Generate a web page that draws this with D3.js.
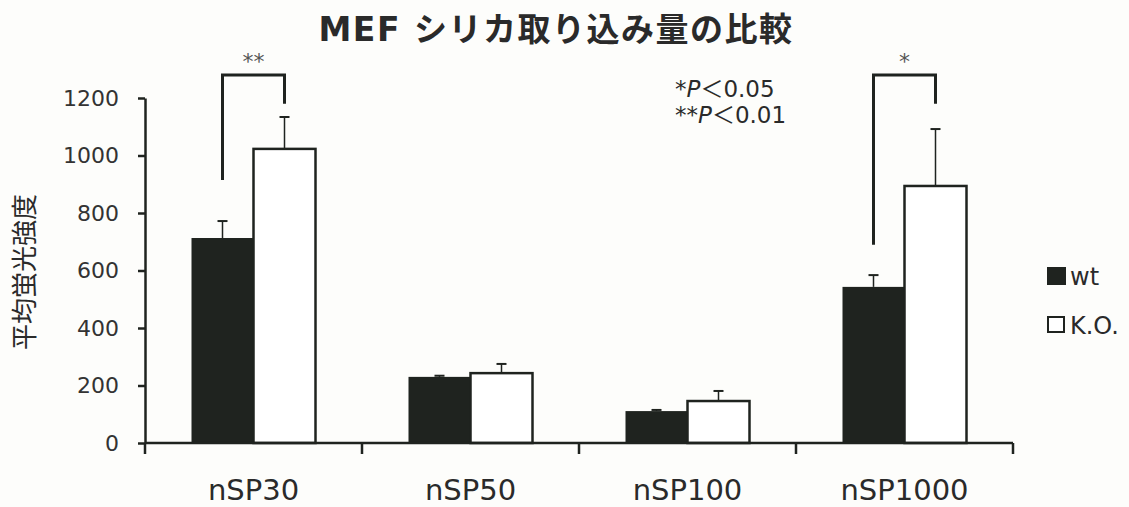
<!DOCTYPE html>
<html>
<head>
<meta charset="utf-8">
<script src="https://cdn.jsdelivr.net/npm/d3@7"></script>
<style>
  body { margin: 0; background: #fdfdfb; }
  svg { display: block; }
  text { fill: #2a2a2a; }
</style>
</head>
<body>
<svg width="1129" height="507"></svg>
<script>
// data
var categories = ["nSP30", "nSP50", "nSP100", "nSP1000"];
var series = ["wt", "K.O."];
var wtMean = [713, 230, 111, 543];
var wtErr = [59, 4, 4, 41];
var koMean = [1023, 243, 146, 894];
var koErr = [111, 32, 35, 198];
var yTicks = [0, 200, 400, 600, 800, 1000, 1200];
// significance brackets: category, left leg bottom, right leg bottom, top (data units), label
var brackets = [
  {cat: "nSP30", left: 915, right: 1180, top: 1280, label: "**"},
  {cat: "nSP1000", left: 690, right: 1180, top: 1280, label: "*"}
];

var svg = d3.select("svg"),
  width = +svg.attr("width"),
  height = +svg.attr("height");

var x0 = 145, x1 = 1013, yBase = 443, yTop = 98;

var x = d3.scaleBand()
    .domain(categories)
    .range([x0, x1])
    .paddingInner(0)
    .paddingOuter(0);

var xs = d3.scaleBand()
    .domain(series)
    .range([0, x.bandwidth()])
    .paddingOuter(0.75)
    .paddingInner(0);

var y = d3.scaleLinear()
    .domain([0, 1200])
    .range([yBase, yTop]);

var rows = [];
categories.forEach(function(c, i) {
  rows.push({cat: c, s: "wt", v: wtMean[i], e: wtErr[i]});
  rows.push({cat: c, s: "K.O.", v: koMean[i], e: koErr[i]});
});

var ink = "#1f231f";

// title
svg.append("text")
    .attr("x", 556)
    .attr("y", 41)
    .attr("text-anchor", "middle")
    .style("font-family", "'DejaVu Sans', 'Noto Sans CJK JP', sans-serif")
    .style("font-weight", "bold")
    .style("font-size", "33px")
    .style("letter-spacing", "1.5px")
    .text("MEF シリカ取り込み量の比較");

// error bars (drawn first so bar tops cover the base)
var eb = svg.append("g").selectAll("g")
    .data(rows)
    .enter().append("g");

function cx(d) { return x(d.cat) + xs(d.s) + xs.bandwidth() / 2; }

eb.append("line")
    .attr("x1", cx).attr("x2", cx)
    .attr("y1", function(d) { return y(d.v); })
    .attr("y2", function(d) { return y(d.v + d.e); })
    .attr("stroke", ink)
    .attr("stroke-width", 1.5);

eb.append("line")
    .attr("x1", function(d) { return cx(d) - 5; })
    .attr("x2", function(d) { return cx(d) + 5; })
    .attr("y1", function(d) { return y(d.v + d.e); })
    .attr("y2", function(d) { return y(d.v + d.e); })
    .attr("stroke", ink)
    .attr("stroke-width", 2);

// bars
svg.append("g").selectAll("rect")
    .data(rows)
    .enter().append("rect")
      .attr("x", function(d) { return x(d.cat) + xs(d.s); })
      .attr("y", function(d) { return y(d.v); })
      .attr("width", xs.bandwidth())
      .attr("height", function(d) { return yBase - y(d.v); })
      .attr("fill", function(d) { return d.s === "wt" ? ink : "#ffffff"; })
      .attr("stroke", ink)
      .attr("stroke-width", function(d) { return d.s === "wt" ? 0 : 2.5; });

// y axis
var yAxis = svg.append("g")
    .attr("transform", "translate(" + x0 + ",0)")
    .call(d3.axisLeft(y).tickValues(yTicks).tickFormat(d3.format("d"))
      .tickSize(7).tickPadding(19).tickSizeOuter(0));
yAxis.select(".domain").attr("stroke", ink).attr("stroke-width", 2.5);
yAxis.selectAll(".tick line").attr("stroke", ink).attr("stroke-width", 2.5);
yAxis.selectAll(".tick text")
    .style("font-family", "'DejaVu Sans', sans-serif")
    .style("font-size", "22px")
    .style("fill", "#333");

// x axis: ticks at band boundaries
var xAxis = svg.append("g")
    .attr("transform", "translate(0," + yBase + ")");
xAxis.append("line")
    .attr("x1", x0).attr("x2", x1)
    .attr("stroke", ink).attr("stroke-width", 2.5);
var bounds = categories.map(function(c) { return x(c); }).concat([x1]);
xAxis.selectAll(".bt")
    .data(bounds)
    .enter().append("line")
      .attr("x1", function(d) { return d; })
      .attr("x2", function(d) { return d; })
      .attr("y1", 0).attr("y2", 11)
      .attr("stroke", ink).attr("stroke-width", 2.5);
xAxis.selectAll("text")
    .data(categories)
    .enter().append("text")
      .attr("x", function(d) { return x(d) + x.bandwidth() / 2; })
      .attr("y", 57)
      .attr("text-anchor", "middle")
      .style("font-family", "'DejaVu Sans', sans-serif")
      .style("font-size", "29px")
      .text(function(d) { return d; });

// y title
svg.append("text")
    .attr("transform", "translate(34,272) rotate(-90)")
    .attr("text-anchor", "middle")
    .style("font-family", "'Noto Sans CJK JP', sans-serif")
    .style("font-size", "26px")
    .text("平均蛍光強度");

// significance brackets
var bg = svg.append("g").selectAll("g")
    .data(brackets)
    .enter().append("g");

bg.append("path")
    .attr("d", function(d) {
      var lx = x(d.cat) + xs("wt") + xs.bandwidth() / 2,
          rx = x(d.cat) + xs("K.O.") + xs.bandwidth() / 2;
      return "M" + lx + "," + y(d.left) + "V" + y(d.top) + "H" + rx + "V" + y(d.right);
    })
    .attr("fill", "none")
    .attr("stroke", ink)
    .attr("stroke-width", 3);

bg.append("text")
    .attr("x", function(d) { return x(d.cat) + x.bandwidth() / 2; })
    .attr("y", function(d) { return y(d.top) - 6; })
    .attr("text-anchor", "middle")
    .style("font-family", "'DejaVu Sans', sans-serif")
    .style("font-size", "22px")
    .style("fill", "#555")
    .text(function(d) { return d.label; });

// p value note
var note = svg.append("g")
    .style("font-family", "'DejaVu Sans', 'Noto Sans CJK JP', sans-serif")
    .style("font-size", "23px");
[["*", "0.05", 97], ["**", "0.01", 123]].forEach(function(r) {
  var t = note.append("text").attr("x", 675).attr("y", r[2]);
  t.append("tspan").text(r[0]);
  t.append("tspan").style("font-style", "italic").text("P");
  t.append("tspan").text("＜" + r[1]);
});

// legend
var legend = svg.append("g").selectAll("g")
    .data(series)
    .enter().append("g")
      .attr("transform", function(d, i) { return "translate(1047," + (267 + i * 49) + ")"; });
legend.append("rect")
    .attr("x", function(d, i) { return i ? 1 : 0; })
    .attr("y", function(d, i) { return i ? 1 : 0; })
    .attr("width", function(d, i) { return i ? 16 : 19; })
    .attr("height", function(d, i) { return i ? 15 : 18; })
    .attr("fill", function(d) { return d === "wt" ? ink : "#fff"; })
    .attr("stroke", ink)
    .attr("stroke-width", function(d) { return d === "wt" ? 0 : 2; });
legend.append("text")
    .attr("x", 23)
    .attr("y", 18)
    .style("font-family", "'DejaVu Sans', sans-serif")
    .style("font-size", "24px")
    .text(function(d) { return d; });
</script>
</body>
</html>
